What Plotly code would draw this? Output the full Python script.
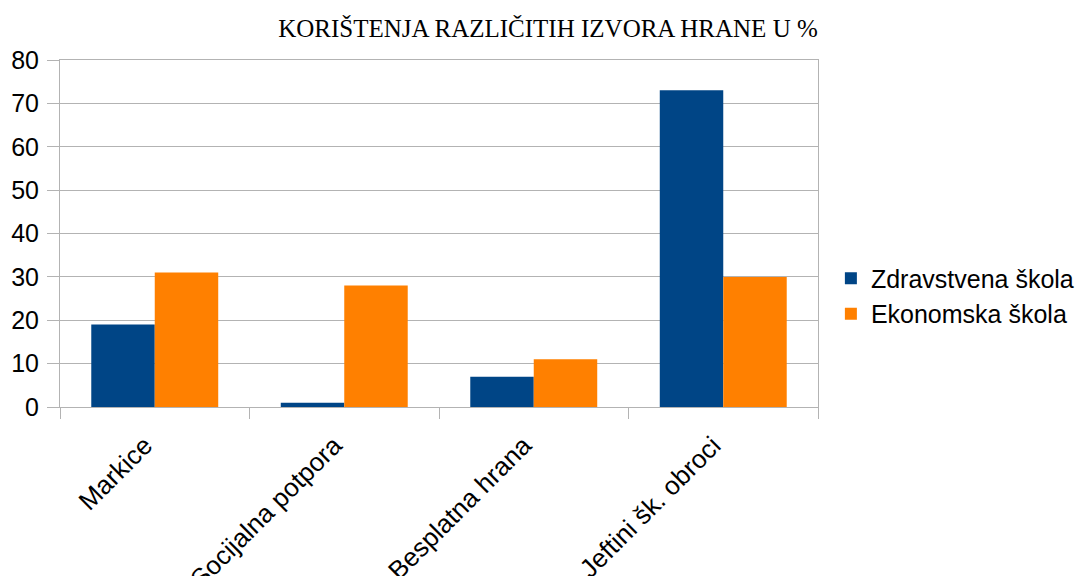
import plotly.graph_objects as go

categories = ["Markice", "Socijalna potpora", "Besplatna hrana", "Jeftini šk. obroci"]
zdravstvena = [19, 1, 7, 73]
ekonomska = [31, 28, 11, 30]
series_names = ["Zdravstvena škola", "Ekonomska škola"]
y_ticks = [0, 10, 20, 30, 40, 50, 60, 70, 80]

fig = go.Figure()
fig.add_trace(go.Bar(x=categories, y=zdravstvena, name=series_names[0],
                     marker=dict(color="#004586", line=dict(width=0))))
fig.add_trace(go.Bar(x=categories, y=ekonomska, name=series_names[1],
                     marker=dict(color="#ff8000", line=dict(width=0))))
# invisible helper trace carrying the category labels (slightly offset like the original)
fig.add_trace(go.Scatter(x=categories, y=[None] * len(categories), xaxis="x2",
                         mode="markers", showlegend=False, hoverinfo="skip"))

label_shift = 0.053
n = len(categories)

fig.update_layout(
    width=1086, height=576,
    margin=dict(l=52, r=276, t=52, b=177, autoexpand=False),
    paper_bgcolor="white", plot_bgcolor="white",
    barmode="group", bargap=0.33, bargroupgap=0,
    title=dict(text="KORIŠTENJA RAZLIČITIH IZVORA HRANE U %",
               font=dict(family="Liberation Serif", size=25, color="black"),
               x=540/1086, xanchor="center", xref="container",
               y=1-20/576, yanchor="middle"),
    font=dict(family="Liberation Sans", size=25, color="black"),
    legend=dict(x=1.017, xanchor="left", y=0.32, yanchor="middle",
                font=dict(family="Liberation Sans", size=25, color="black"),
                tracegroupgap=4, itemwidth=30),
    showlegend=True,
    xaxis=dict(showline=True, linecolor="#b3b3b3", linewidth=1, mirror=True,
               ticks="outside", ticklen=11, tickcolor="#b3b3b3",
               tickson="boundaries", showgrid=False, showticklabels=False,
               automargin=False, range=[-0.5, n - 0.5]),
    xaxis2=dict(overlaying="x", anchor="y", side="bottom", type="category",
                categoryorder="array", categoryarray=categories,
                range=[-0.5 + label_shift, n - 0.5 + label_shift],
                showline=False, showgrid=False, zeroline=False,
                ticks="outside", ticklen=11, tickcolor="rgba(0,0,0,0)",
                tickangle=-45, ticklabelstandoff=1, automargin=False,
                tickfont=dict(family="Liberation Sans", size=26, color="black")),
)
fig.update_yaxes(range=[0, 80], tickvals=y_ticks, showline=True, linecolor="#b3b3b3",
                 linewidth=1, mirror=True, ticks="outside", ticklen=12, tickcolor="#b3b3b3",
                 showgrid=True, gridcolor="#b3b3b3", gridwidth=1, zeroline=False,
                 ticklabelstandoff=3, automargin=False,
                 tickfont=dict(family="Liberation Sans", size=25, color="black"))

fig.write_html("out.html")
